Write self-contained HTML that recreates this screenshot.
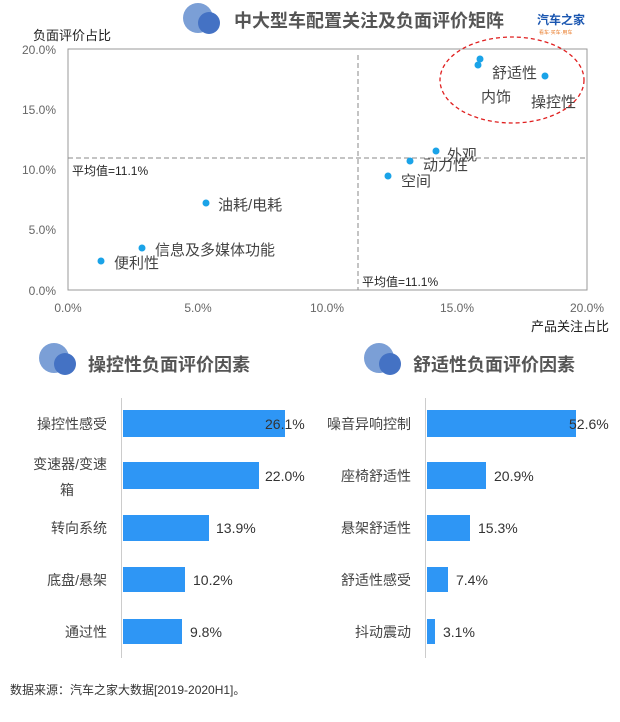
<!DOCTYPE html>
<html><head><meta charset="utf-8"><style>
body{margin:0;background:#fff;width:620px;height:717px;overflow:hidden;font-family:"Liberation Sans","Noto Sans CJK SC",sans-serif;}
</style></head><body>
<svg width="620" height="717" xmlns="http://www.w3.org/2000/svg" font-family="Liberation Sans, Noto Sans CJK SC, sans-serif">
<circle cx="198" cy="18" r="15" fill="#7b9fd6"/><circle cx="209" cy="23" r="11" fill="#4472c4"/>
<text x="234" y="27" font-size="18" font-weight="bold" fill="#555">中大型车配置关注及负面评价矩阵</text>
<text x="537" y="24" font-size="12" font-weight="bold" fill="#1a56b0">汽车之家</text>
<text x="539" y="34" font-size="5" fill="#e87722">看车·买车·用车</text>
<text x="33" y="40" font-size="13" fill="#222">负面评价占比</text>
<rect x="68" y="49" width="519" height="241" fill="none" stroke="#999" stroke-width="1"/>
<g font-size="12" fill="#666" text-anchor="end">
<text x="56" y="54">20.0%</text><text x="56" y="114">15.0%</text><text x="56" y="174">10.0%</text><text x="56" y="234">5.0%</text><text x="56" y="295">0.0%</text>
</g>
<g font-size="12" fill="#666" text-anchor="middle">
<text x="68" y="312">0.0%</text><text x="198" y="312">5.0%</text><text x="327" y="312">10.0%</text><text x="457" y="312">15.0%</text><text x="587" y="312">20.0%</text>
</g>
<text x="609" y="331" font-size="13" fill="#222" text-anchor="end">产品关注占比</text>
<line x1="358" y1="55" x2="358" y2="290" stroke="#888" stroke-dasharray="5,3"/>
<line x1="68" y1="158" x2="587" y2="158" stroke="#888" stroke-dasharray="5,3"/>
<text x="72" y="175" font-size="12" fill="#222">平均值=11.1%</text>
<text x="362" y="286" font-size="12" fill="#222">平均值=11.1%</text>
<ellipse cx="512" cy="80" rx="72" ry="43" fill="none" stroke="#e02020" stroke-width="1.3" stroke-dasharray="4,3"/>
<g fill="#1aa3e8">
<circle cx="480" cy="59" r="3.5"/><circle cx="478" cy="65" r="3.5"/><circle cx="545" cy="76" r="3.5"/>
<circle cx="436" cy="151" r="3.5"/><circle cx="410" cy="161" r="3.5"/><circle cx="388" cy="176" r="3.5"/>
<circle cx="206" cy="203" r="3.5"/><circle cx="142" cy="248" r="3.5"/><circle cx="101" cy="261" r="3.5"/>
</g>
<g font-size="15" fill="#444">
<text x="492" y="78">舒适性</text><text x="481" y="102">内饰</text><text x="531" y="107">操控性</text>
<text x="447" y="160">外观</text><text x="423" y="170">动力性</text><text x="401" y="186">空间</text>
<text x="218" y="210">油耗/电耗</text><text x="155" y="255">信息及多媒体功能</text><text x="114" y="268">便利性</text>
</g>
<circle cx="54" cy="358" r="15" fill="#7b9fd6"/><circle cx="65" cy="364" r="11" fill="#4472c4"/>
<text x="88" y="371" font-size="18" font-weight="bold" fill="#555">操控性负面评价因素</text>
<circle cx="379" cy="358" r="15" fill="#7b9fd6"/><circle cx="390" cy="364" r="11" fill="#4472c4"/>
<text x="413" y="371" font-size="18" font-weight="bold" fill="#555">舒适性负面评价因素</text>
<line x1="121.5" y1="398" x2="121.5" y2="658" stroke="#ccc"/>
<g fill="#2e96f5">
<rect x="123" y="410" width="162" height="27"/><rect x="123" y="462" width="136" height="27"/>
<rect x="123" y="515" width="86" height="26"/><rect x="123" y="567" width="62" height="25"/>
<rect x="123" y="619" width="59" height="25"/>
</g>
<g font-size="14" fill="#444" text-anchor="end">
<text x="107" y="429">操控性感受</text><text x="107" y="469">变速器/变速</text><text x="74" y="495">箱</text>
<text x="107" y="533">转向系统</text><text x="107" y="585">底盘/悬架</text><text x="107" y="637">通过性</text>
</g>
<g font-size="14" fill="#333">
<text x="265" y="429">26.1%</text><text x="265" y="481">22.0%</text><text x="216" y="533">13.9%</text><text x="193" y="585">10.2%</text><text x="190" y="637">9.8%</text>
</g>
<line x1="425.5" y1="398" x2="425.5" y2="658" stroke="#ccc"/>
<g fill="#2e96f5">
<rect x="427" y="410" width="149" height="27"/><rect x="427" y="462" width="59" height="27"/>
<rect x="427" y="515" width="43" height="26"/><rect x="427" y="567" width="21" height="25"/>
<rect x="427" y="619" width="8" height="25"/>
</g>
<g font-size="14" fill="#444" text-anchor="end">
<text x="411" y="429">噪音异响控制</text><text x="411" y="481">座椅舒适性</text><text x="411" y="533">悬架舒适性</text>
<text x="411" y="585">舒适性感受</text><text x="411" y="637">抖动震动</text>
</g>
<g font-size="14" fill="#333">
<text x="569" y="429">52.6%</text><text x="494" y="481">20.9%</text><text x="478" y="533">15.3%</text><text x="456" y="585">7.4%</text><text x="443" y="637">3.1%</text>
</g>
<text x="10" y="694" font-size="12" fill="#333">数据来源：汽车之家大数据[2019-2020H1]。</text>
</svg>
</body></html>
